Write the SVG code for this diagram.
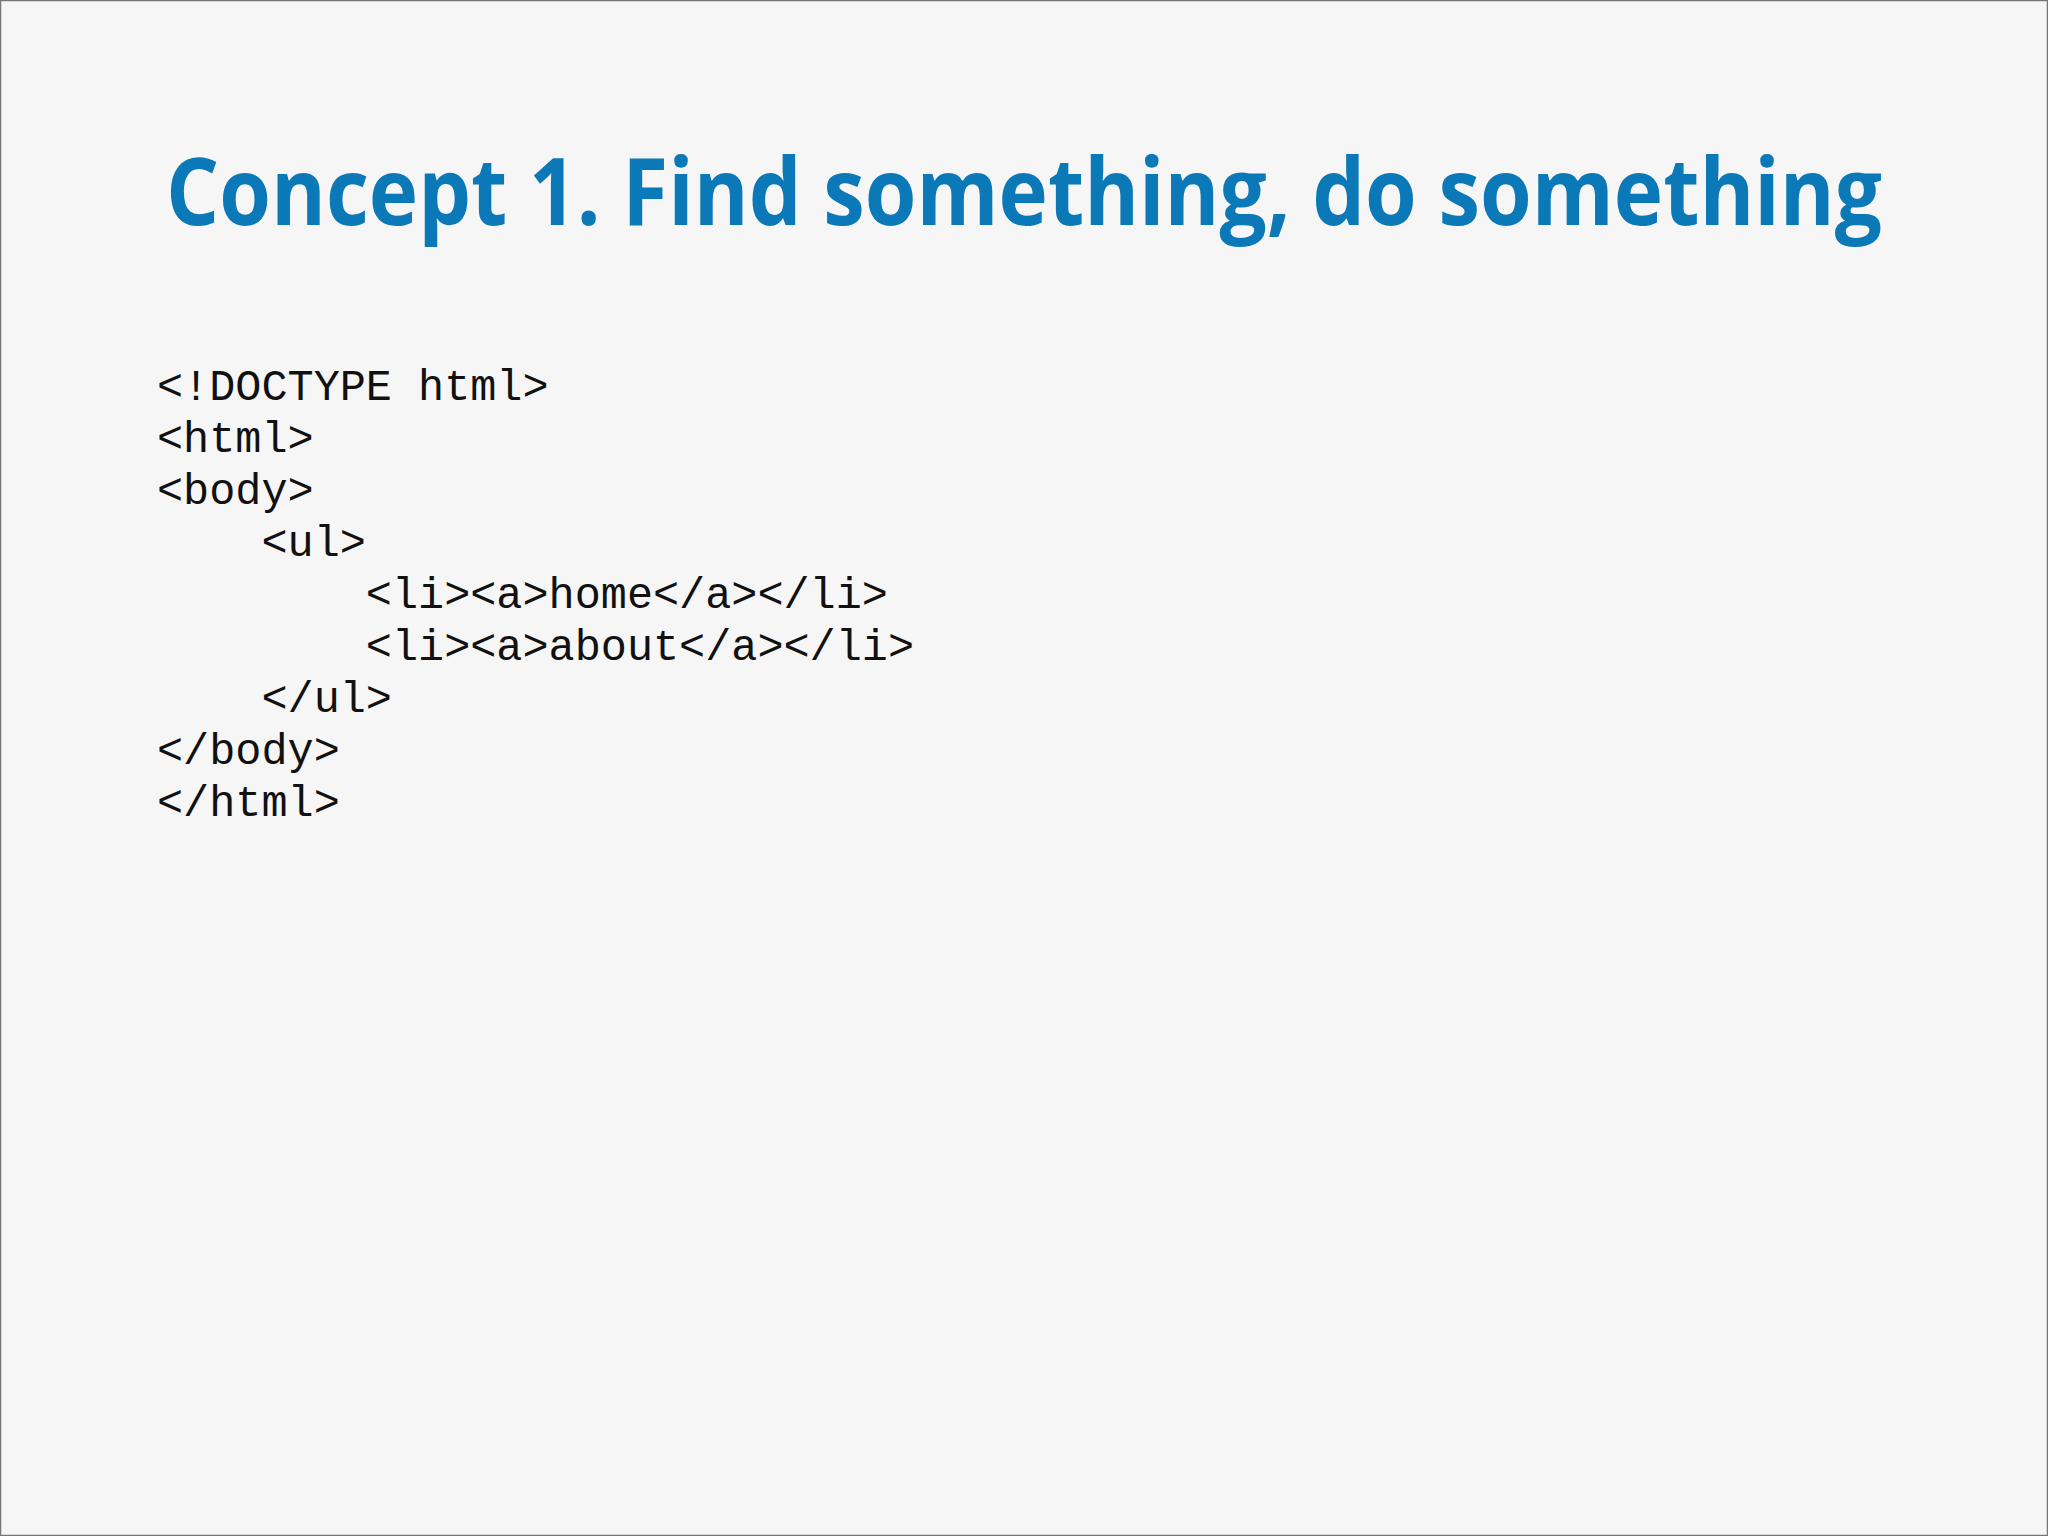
<svg xmlns="http://www.w3.org/2000/svg" width="2048" height="1536" viewBox="0 0 2048 1536">
<style>
.code{font-family:"Liberation Mono","Courier New",monospace;font-size:43.5px;fill:#111;white-space:pre}
.title{font-family:"Open Sans","Noto Sans",sans-serif;font-weight:700;font-size:94px;fill:#0b78b8}
</style>
<rect x="0.5" y="0.5" width="2047" height="1535" fill="#f6f6f6" stroke="#777" stroke-width="1.5"/>
<g id="title"><text class="title" x="166" y="225" textLength="1716" lengthAdjust="spacingAndGlyphs">Concept 1. Find something, do something</text></g>
<g id="code">
<text class="code" x="157" y="400" xml:space="preserve">&lt;!DOCTYPE html&gt;</text>
<text class="code" x="157" y="452" xml:space="preserve">&lt;html&gt;</text>
<text class="code" x="157" y="504" xml:space="preserve">&lt;body&gt;</text>
<text class="code" x="157" y="556" xml:space="preserve">    &lt;ul&gt;</text>
<text class="code" x="157" y="608" xml:space="preserve">        &lt;li&gt;&lt;a&gt;home&lt;/a&gt;&lt;/li&gt;</text>
<text class="code" x="157" y="660" xml:space="preserve">        &lt;li&gt;&lt;a&gt;about&lt;/a&gt;&lt;/li&gt;</text>
<text class="code" x="157" y="712" xml:space="preserve">    &lt;/ul&gt;</text>
<text class="code" x="157" y="764" xml:space="preserve">&lt;/body&gt;</text>
<text class="code" x="157" y="816" xml:space="preserve">&lt;/html&gt;</text>
</g>
</svg>
